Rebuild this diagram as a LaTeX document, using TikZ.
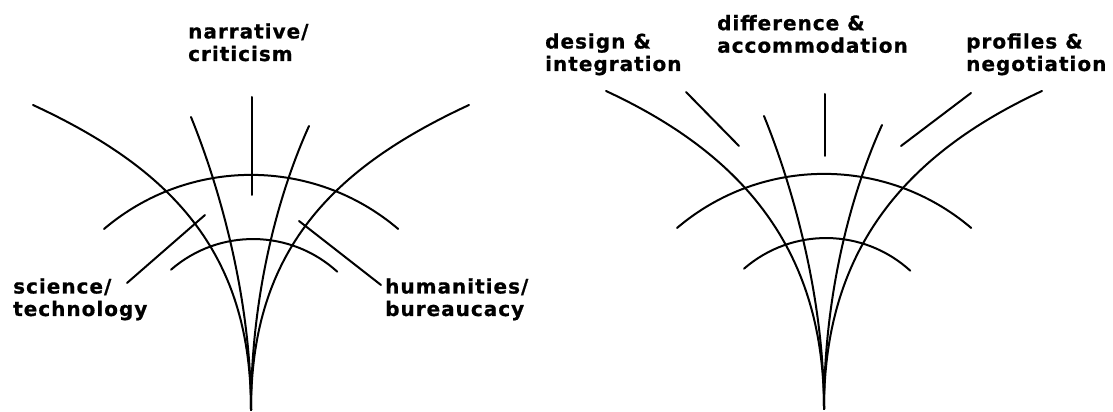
\documentclass[tikz,border=0pt]{standalone}
\usepackage{fontspec}
\usepackage{tikz}
\newfontfamily\lblfont{DejaVu Sans}[LetterSpace=5,BoldFeatures={FakeBold=0.8}]
\tikzset{
  curve/.style={line width=2pt,line cap=round},
  lbl/.style={font=\lblfont\bfseries\fontsize{20}{22.5}\selectfont,
              align=left,inner sep=0pt,anchor=base west}
}
% one fan of curves, apex at #1, outer tips #2 above it
\newcommand{\fan}[2]{%
  \begin{scope}[shift={#1}]
    \draw[curve] (0,0) .. controls (0,160) and (-82,{#2-63}) .. (-218,#2);
    \draw[curve] (0,0) .. controls (0,160) and (82,{#2-63}) .. (218,#2);
    \draw[curve] (0,0) .. controls (0,110) and (-30,219) .. (-60,293);
    \draw[curve] (0,0) .. controls (0,110) and (25,211) .. (58,284);
    \draw[curve] (-147,181) arc[start angle=130.4,end angle=49.6,radius=227pt];
    \draw[curve] (-80,140.3) arc[start angle=131,end angle=47.6,radius=125pt];
  \end{scope}}

\begin{document}
\begin{tikzpicture}[x=1pt,y=1pt]
  \useasboundingbox (0,0) rectangle (1113,412);
  % left fan
  \fan{(251,2)}{305}
  \node[lbl] (narr) at (188,351) {narrative/\\criticism};
  \node[lbl] (sci) at (13,96) {science/\\technology};
  \node[lbl] (hum) at (385,96) {humanities/\\bureaucacy};
  \coordinate (narr-a) at (252,315);
  \coordinate (narr-b) at (252,217);
  \coordinate (sci-a) at (127,129);
  \coordinate (sci-b) at (205,197);
  \coordinate (hum-a) at (381,127);
  \coordinate (hum-b) at (299,191);
  \draw[curve] (narr-a) -- (narr-b);
  \draw[curve] (sci-a) -- (sci-b);
  \draw[curve] (hum-a) -- (hum-b);
  % right fan
  \fan{(824,3)}{318}
  \node[lbl] (des) at (545,341) {design \&\\integration};
  \node[lbl] (diff) at (717,359.3) {difference \&\\accommodation};
  \node[lbl] (prof) at (966,341) {profiles \&\\negotiation};
  \coordinate (des-a) at (686,320);
  \coordinate (des-b) at (739,266);
  \coordinate (diff-a) at (825,318);
  \coordinate (diff-b) at (825,256);
  \coordinate (prof-a) at (971,319);
  \coordinate (prof-b) at (901,266);
  \draw[curve] (des-a) -- (des-b);
  \draw[curve] (diff-a) -- (diff-b);
  \draw[curve] (prof-a) -- (prof-b);
\end{tikzpicture}
\end{document}
